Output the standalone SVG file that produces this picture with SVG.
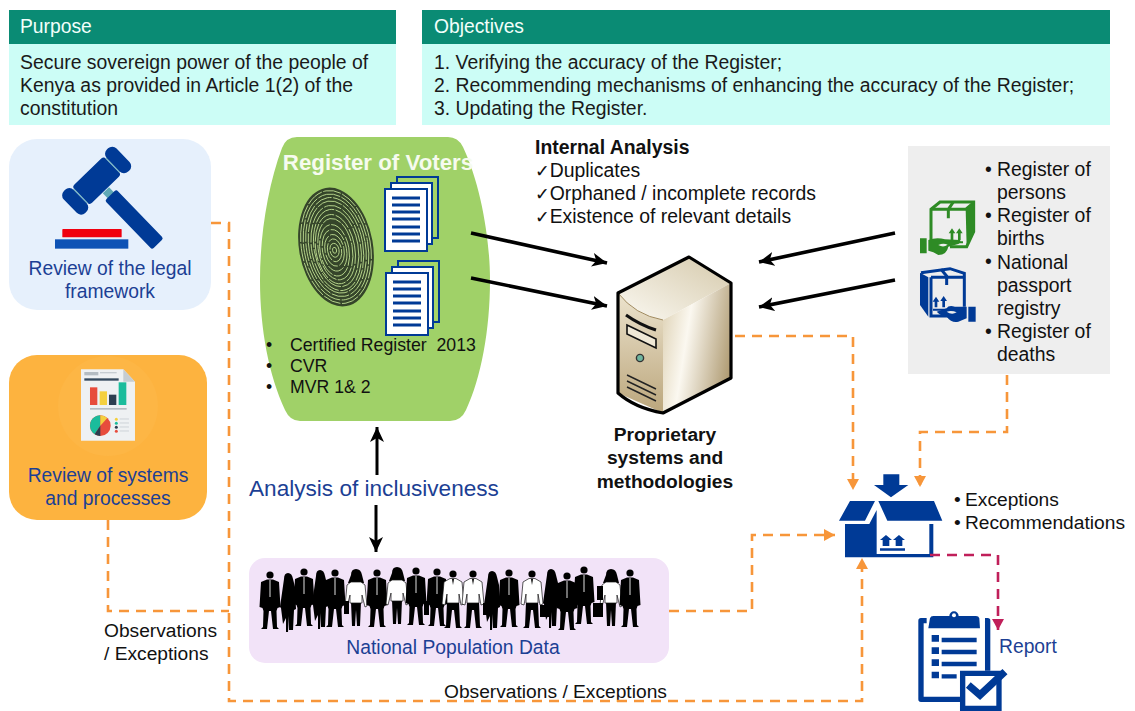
<svg xmlns="http://www.w3.org/2000/svg" xmlns:xlink="http://www.w3.org/1999/xlink" width="1135" height="711" viewBox="0 0 1135 711">
<style>
text{font-family:"Liberation Sans",Arial,sans-serif;fill:#111}
.hd{font-size:19.3px;fill:#f2fffb}
.b{font-size:19.4px;fill:#1a1a1a}
.blue{fill:#1c3f94;font-size:19.3px}
.dash{fill:none;stroke:#f7963a;stroke-width:2.6;stroke-dasharray:10 7}
.red{fill:none;stroke:#c01f5a;stroke-width:2.6;stroke-dasharray:10 7}
.blk{stroke:#000;stroke-width:3.6;fill:none}
.nb{fill:#003a96}
.ck{font-family:"DejaVu Sans",sans-serif;font-size:17.5px}
</style>
<defs>
<linearGradient id="gFront" x1="0" x2="1" y1="0.3" y2="0.6"><stop offset="0" stop-color="#e2d7bd"/><stop offset=".35" stop-color="#fbf8f0"/><stop offset="1" stop-color="#b09c74"/></linearGradient>
<linearGradient id="gLeft" x1="0" x2="0" y1="0" y2="1"><stop offset="0" stop-color="#ece3cd"/><stop offset="1" stop-color="#bba67c"/></linearGradient>
<linearGradient id="gTop" x1="0" x2="1" y1="1" y2="0"><stop offset="0" stop-color="#fbf9f2"/><stop offset="1" stop-color="#d5c9ab"/></linearGradient>
<marker id="mo" markerWidth="13" markerHeight="12" refX="11" refY="6" orient="auto" markerUnits="userSpaceOnUse"><path d="M0 0L11 6L0 12z" fill="#f7963a"/></marker>
<marker id="mr" markerWidth="13" markerHeight="12" refX="11" refY="6" orient="auto" markerUnits="userSpaceOnUse"><path d="M0 0L11 6L0 12z" fill="#c01f5a"/></marker>
<marker id="mb" markerWidth="16" markerHeight="14" refX="15" refY="7" orient="auto" markerUnits="userSpaceOnUse"><path d="M0 0L15 7L0 14L4 7z" fill="#000"/></marker>
<g id="doc">
<rect x="12" y="-12" width="41" height="61" fill="#a5d468" stroke="#003a96" stroke-width="2"/>
<rect x="6" y="-6" width="41" height="61" fill="#fff" stroke="#003a96" stroke-width="2"/>
<rect x="0" y="0" width="42" height="62" fill="#fff" stroke="#003a96" stroke-width="2"/>
<path d="M7 9h28M7 16h28M7 23h28M7 30h28M7 38h28M7 45h28M7 52h28" stroke="#003a96" stroke-width="3" fill="none"/>
</g>
<g id="man"><circle cx="0" cy="4" r="3.6" fill="#000"/><path d="M-3 8.5L-9 11L-10.5 36L-7.5 37L-6.5 40L-7 56L-9 58H-3L-1 40H1L3 58H9L7 56L6.5 40L7.5 37L10.5 36L9 11L3 8.5z" fill="#000"/><path d="M0 9V26" stroke="#bbb" stroke-width="1.2"/></g>
<g id="shirt"><circle cx="0" cy="4" r="3.6" fill="#000"/><path d="M-6 32L-7 56L-9 58H-3L-1 40H1L3 58H9L7 56L6 32z" fill="#000"/><path d="M-3 8.5L-9 12L-11 34L-8 35L-6 24V33H6V24L8 35L11 34L9 12L3 8.5z" fill="#fff" stroke="#111" stroke-width=".7"/><path d="M-1 9L0 15L1 9z" fill="#000"/></g>
<g id="woman"><path d="M-5 5Q-5 -1 0 -1Q5 -1 6 5L8 13H-8z" fill="#000"/><path d="M-5 32L-4 56H-1L0 40L1 56H4L5 32z" fill="#000"/><path d="M-5 12L-9 15L-11 36L-9 37L-6 25L-6 33H6V25L9 37L11 36L9 15L5 12z" fill="#fff" stroke="#111" stroke-width=".7"/></g>
<g id="dress"><path d="M-4 5Q-4 -1 0 -1Q4 -1 5 5L7 13L8 35L6 36L5 56H1V42L0 58L-2 58V44L-5 50L-7 34L-8 33z" fill="#000"/></g>
</defs>

<g id="purpose">
<rect x="9" y="44" width="387" height="81" fill="#ccfdf6"/>
<rect x="9" y="10" width="387" height="34" fill="#0a8b74"/>
<text class="hd" x="20" y="33">Purpose</text>
<text class="b" x="20" y="69">Secure sovereign power of the people of</text>
<text class="b" x="20" y="92">Kenya as provided in Article 1(2) of the</text>
<text class="b" x="20" y="115">constitution</text>
</g>
<g id="objectives">
<rect x="422" y="44" width="688" height="81" fill="#ccfdf6"/>
<rect x="422" y="10" width="688" height="34" fill="#0a8b74"/>
<text class="hd" x="434" y="33">Objectives</text>
<text class="b" x="434" y="69">1. Verifying the accuracy of the Register;</text>
<text class="b" x="434" y="92">2. Recommending mechanisms of enhancing the accuracy of the Register;</text>
<text class="b" x="434" y="115">3. Updating the Register.</text>
</g>

<g id="legal-review">
<rect x="9" y="139" width="202" height="171" rx="28" fill="#e6f0fc"/>
<g transform="translate(0 130) scale(.3333)">
<g transform="translate(290 152) rotate(-44)">
<rect x="-66" y="-38" width="132" height="76" rx="10" class="nb"/>
<rect x="-70" y="-30" width="5" height="60" fill="#7fb9c6"/>
<rect x="65" y="-30" width="5" height="60" fill="#7fb9c6"/>
<rect x="-110" y="-46" width="41" height="92" rx="18" class="nb"/>
<rect x="69" y="-46" width="41" height="92" rx="18" class="nb"/>
<rect x="-13" y="40" width="26" height="24" fill="#5fa8b5"/>
<rect x="-24" y="60" width="48" height="204" rx="7" class="nb"/>
</g>
<rect x="187" y="297" width="178" height="25" rx="2" fill="#f0000f"/>
<rect x="165" y="328" width="220" height="28" fill="#0d52b5"/>
</g>
<text class="blue" x="110" y="275" text-anchor="middle">Review of the legal</text>
<text class="blue" x="110" y="298" text-anchor="middle">framework</text>
</g>

<g id="systems-review">
<rect x="9" y="355" width="198" height="165" rx="28" fill="#fdb33f"/>
<circle cx="108" cy="406" r="50" fill="#fdb645"/>
<g transform="translate(0 350) scale(.3333)">
<path d="M243 58H370L405 95V272H243z" fill="#eef1f3"/>
<path d="M370 58L405 95H370z" fill="#c6cdd2"/>
<rect x="253" y="66" width="42" height="10" fill="#b4bcc2"/>
<rect x="300" y="66" width="50" height="4" fill="#c6cdd2"/>
<rect x="253" y="85" width="103" height="7" fill="#34495e"/>
<rect x="270" y="112" width="22" height="53" fill="#e74c3c"/>
<rect x="299" y="124" width="22" height="41" fill="#f4d03f"/>
<rect x="327" y="134" width="22" height="31" fill="#2c3e50"/>
<rect x="356" y="97" width="23" height="68" fill="#1abc9c"/>
<rect x="270" y="174" width="110" height="5" fill="#b4bcc2"/>
<circle cx="301" cy="227" r="31" fill="#e74c3c"/>
<path d="M301 227L301 196A31 31 0 0 0 284 253z" fill="#1abc9c"/>
<path d="M301 227L301 196A31 31 0 0 1 322 204z" fill="#f4d03f"/>
<path d="M301 227L284 253A31 31 0 0 0 301 258z" fill="#2c3e50"/>
<circle cx="349" cy="208" r="4.5" fill="#f4d03f"/><circle cx="349" cy="220" r="4.5" fill="#1abc9c"/><circle cx="349" cy="232" r="4.5" fill="#2c3e50"/><circle cx="349" cy="244" r="4.5" fill="#e74c3c"/>
<path d="M359 207h28M359 219h28M359 231h28M359 243h28" stroke="#c6cdd2" stroke-width="2.5"/>
</g>
<text class="blue" x="108" y="482" text-anchor="middle">Review of systems</text>
<text class="blue" x="108" y="505" text-anchor="middle">and processes</text>
</g>

<g id="register-of-voters">
<path d="M297 137H448Q458 137 463 147C481 185 490 240 490 280C490 330 481 378 466 410Q461 421 450 421H300Q290 421 285 410C269 375 260 330 260 280C260 235 268 185 282 148Q286 137 297 137z" fill="#a0d168"/>
<text x="378" y="170" text-anchor="middle" style="font-size:22.3px;font-weight:bold;fill:#f6fbef">Register of Voters</text>
<ellipse cx="336" cy="247" rx="37" ry="60" transform="rotate(-10 336 247)" fill="#35452a"/>
<g transform="rotate(-10 336 247)" fill="none" stroke="#b9d78e" stroke-width=".9" stroke-dasharray="18 1.6">
<ellipse cx="336" cy="247" rx="34.5" ry="57"/>
<ellipse cx="336" cy="247" rx="32" ry="53.5" stroke-dasharray="23 1.4"/>
<ellipse cx="336" cy="247" rx="29.5" ry="50"/>
<ellipse cx="336" cy="247" rx="27" ry="46.5" stroke-dasharray="26 1.4"/>
<ellipse cx="336" cy="248" rx="24.5" ry="43"/>
<ellipse cx="336" cy="248" rx="22" ry="39" stroke-dasharray="24 1.4"/>
<ellipse cx="335" cy="249" rx="19.5" ry="35"/>
<ellipse cx="335" cy="249" rx="17" ry="31" stroke-dasharray="20 1.4"/>
<ellipse cx="334" cy="250" rx="14.5" ry="26"/>
<ellipse cx="334" cy="250" rx="12" ry="21"/>
<ellipse cx="334" cy="250" rx="9.5" ry="16"/>
<ellipse cx="334" cy="250" rx="7" ry="11.5"/>
<ellipse cx="334" cy="250" rx="4.5" ry="7"/>
<ellipse cx="334" cy="250" rx="2" ry="3"/>
</g>
<use xlink:href="#doc" href="#doc" x="385" y="189"/>
<use xlink:href="#doc" href="#doc" x="386" y="273"/>
<g style="font-size:17.7px">
<text x="266" y="351">•</text><text x="290" y="351">Certified Register&#160; 2013</text>
<text x="266" y="372">•</text><text x="290" y="372">CVR</text>
<text x="266" y="393">•</text><text x="290" y="393">MVR 1&amp; 2</text>
</g>
</g>

<g id="internal-analysis" style="font-size:19.4px">
<text x="535" y="154" style="font-weight:bold">Internal Analysis</text>
<text x="535" y="177"><tspan class="ck">✓</tspan>Duplicates</text>
<text x="535" y="200"><tspan class="ck">✓</tspan>Orphaned / incomplete records</text>
<text x="535" y="223"><tspan class="ck">✓</tspan>Existence of relevant details</text>
</g>

<g id="proprietary-systems">
<path d="M618 293L689 257L731 283L663 320Q635 315 618 293z" fill="url(#gTop)"/>
<path d="M618 293Q635 315 663 320V413L618 393z" fill="url(#gLeft)"/>
<path d="M663 320L731 283V378L663 413z" fill="url(#gFront)"/>
<path d="M618 293Q635 315 663 320" fill="none" stroke="#a08a5e" stroke-width="1"/>
<path d="M618 293L689 257L731 283V378L663 413Q635 408 618 393z" fill="none" stroke="#000" stroke-width="3.2" stroke-linejoin="round"/>
<path d="M626 315Q640 325 656 330" stroke="#111" stroke-width="3" fill="none"/>
<path d="M627 325L656 339V348L627 334z" fill="#efe8d6" stroke="#111" stroke-width="1.6"/>
<circle cx="640" cy="358" r="3.6" fill="#6fb59f" stroke="#333" stroke-width="1.4"/>
<path d="M627 375L656 389M627 381L656 395M627 387L656 401" stroke="#222" stroke-width="1.4"/>
<g text-anchor="middle" style="font-size:19.2px;font-weight:bold">
<text x="665" y="441">Proprietary</text>
<text x="665" y="464">systems and</text>
<text x="665" y="488">methodologies</text>
</g>
</g>

<g id="external-registers">
<rect x="908" y="146" width="202" height="228" fill="#eeeeee"/>
<g transform="translate(905 190) scale(.3333)">
<g fill="none" stroke="#2e8b25" stroke-width="9">
<path d="M78 150V58L105 36H206V125L185 170H135"/>
<path d="M78 58H182L206 38M145 36L130 58V85"/>
</g>
<path d="M182 58L208 38V125L185 172z" fill="#2e8b25"/>
<path d="M45 145H65V190H45zM70 150Q95 140 120 148L165 150Q170 157 160 162L130 170Q125 195 100 195Q85 185 70 182z" fill="#2e8b25"/>
<path d="M100 165Q115 158 128 164Q115 174 100 165z" fill="#eee"/>
<path d="M141 115L151 130H145V150H137V130H131zM163 115L173 130H167V150H159V130H153zM135 154H174V160H135z" fill="#2e8b25"/>
<g fill="none" stroke="#003a96" stroke-width="9">
<path d="M48 248L135 236L178 250V350M78 262H178M78 262V378H135"/>
<path d="M108 238L125 258V285"/>
</g>
<path d="M45 248L70 262V380L45 345z" fill="#003a96"/>
<path d="M190 350H212V395H190zM185 350H150Q130 345 125 355L95 365Q110 380 125 380Q140 400 160 395L185 385z" fill="#003a96"/>
<path d="M125 365Q140 360 155 367Q140 376 125 365z" fill="#eee"/>
<path d="M93 320L103 335H97V352H89V335H83zM116 318L126 333H120V352H112V333H106zM84 356H126V362H84z" fill="#003a96"/>
</g>
<g style="font-size:19.4px">
<text x="985" y="176">•</text><text x="997" y="176">Register of</text>
<text x="997" y="199">persons</text>
<text x="985" y="222">•</text><text x="997" y="222">Register of</text>
<text x="997" y="245">births</text>
<text x="985" y="268">•</text><text x="997" y="269">National</text>
<text x="997" y="292">passport</text>
<text x="997" y="315">registry</text>
<text x="985" y="338">•</text><text x="997" y="338">Register of</text>
<text x="997" y="361">deaths</text>
</g>
</g>

<g id="analysis-label"><text x="249" y="496" style="font-size:22.6px;fill:#1c3f94">Analysis of inclusiveness</text></g>

<g id="national-population">
<rect x="249" y="558" width="420" height="105" rx="16" fill="#f2e3f8"/>
<use xlink:href="#man" href="#man" x="270" y="571"/>
<use xlink:href="#dress" href="#dress" x="288" y="574"/>
<use xlink:href="#man" href="#man" x="304" y="568"/>
<use xlink:href="#dress" href="#dress" x="320" y="571"/>
<use xlink:href="#man" href="#man" x="335" y="569"/>
<use xlink:href="#woman" href="#woman" x="356" y="570"/>
<use xlink:href="#man" href="#man" x="377" y="569"/>
<use xlink:href="#woman" href="#woman" x="397" y="568"/>
<use xlink:href="#man" href="#man" x="416" y="567"/>
<use xlink:href="#man" href="#man" x="437" y="568"/>
<use xlink:href="#shirt" href="#shirt" x="453" y="570"/>
<use xlink:href="#shirt" href="#shirt" x="473" y="570"/>
<use xlink:href="#dress" href="#dress" x="492" y="572"/>
<use xlink:href="#man" href="#man" x="509" y="569"/>
<use xlink:href="#shirt" href="#shirt" x="532" y="570"/>
<use xlink:href="#dress" href="#dress" x="551" y="570"/>
<use xlink:href="#man" href="#man" x="567" y="572"/>
<use xlink:href="#man" href="#man" x="584" y="566"/>
<use xlink:href="#woman" href="#woman" x="611" y="570"/>
<use xlink:href="#man" href="#man" x="630" y="569"/>
<path d="M344 601h5v13h-5zM424 601h5v14h-5zM483 603h6v12h-6zM540 605h10v12h-10zM593 603h10v14h-10zM597 586h6v14h-6z" fill="#000"/>
<text x="453" y="654" text-anchor="middle" style="font-size:19.3px;fill:#1c3f94">National Population Data</text>
</g>

<g id="obs-labels" style="font-size:19.2px">
<text x="104" y="637">Observations</text>
<text x="104" y="660">/ Exceptions</text>
<text x="444" y="698">Observations / Exceptions</text>
</g>

<g id="exceptions">
<g transform="translate(800 460) scale(.3333)" class="nb">
<path d="M250 43H298V75H325L273 112L222 75H250z"/>
<path d="M117 182L150 123H225L195 182zM235 123H402L427 182H262z"/>
<path d="M135 192H208L230 150V282H388V192H400V292H135z"/>
<path d="M240 272H315V265H240zM248 258V240H240L258 225L276 240H268V258zM287 258V240H279L297 225L315 240H307V258z"/>
</g>
<g style="font-size:19.2px">
<text x="954" y="506">•</text><text x="965" y="506">Exceptions</text>
<text x="954" y="529">•</text><text x="965" y="529">Recommendations</text>
</g>
</g>

<g id="report">
<g transform="translate(800 460) scale(.3333)">
<path d="M380 482H363V718H480M555 482H563V632" fill="none" stroke="#003a96" stroke-width="16" stroke-linejoin="round"/>
<path d="M385 505L390 475Q392 468 400 468H448A14 14 0 1 1 476 468H528Q536 468 538 475L540 505z" fill="#003a96"/>
<circle cx="462" cy="466" r="6" fill="#fff"/>
<path d="M395 525h22v20h-22zM395 562h22v20h-22zM395 598h22v20h-22zM395 635h22v20h-22z" fill="#003a96"/>
<path d="M425 540H530M425 576H530M425 612H530M425 649H470" stroke="#003a96" stroke-width="13"/>
<path d="M488 640H597V745H488z" fill="#fff" stroke="#003a96" stroke-width="16"/>
<path d="M505 675L540 705L615 635" fill="none" stroke="#003a96" stroke-width="22"/>
</g>
<text x="999" y="653" style="font-size:19.3px;fill:#1c3f94">Report</text>
</g>

<g id="connectors">
<path class="dash" d="M211 223H229V701H862V558" marker-end="url(#mo)"/>
<path class="dash" d="M108 520V611H229"/>
<path class="dash" d="M735 336H853V490" marker-end="url(#mo)"/>
<path class="dash" d="M1007 375V432H920V487" marker-end="url(#mo)"/>
<path class="dash" d="M669 611H752V535H835" marker-end="url(#mo)"/>
<path class="red" d="M930 555H998V630" marker-end="url(#mr)"/>
<path class="blk" d="M471 233L607 263" marker-end="url(#mb)"/>
<path class="blk" d="M471 278L607 306" marker-end="url(#mb)"/>
<path class="blk" d="M895 233L759 262" marker-end="url(#mb)"/>
<path class="blk" d="M895 280L759 307" marker-end="url(#mb)"/>
<path class="blk" style="stroke-width:3" d="M377 475V427" marker-end="url(#mb)"/>
<path class="blk" style="stroke-width:3" d="M376 505V552" marker-end="url(#mb)"/>
</g>
</svg>
